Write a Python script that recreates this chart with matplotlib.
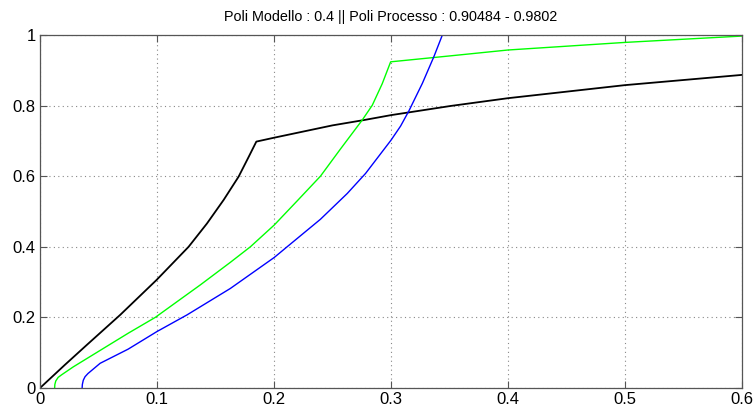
import matplotlib
matplotlib.use("Agg")
import matplotlib.pyplot as plt

# curves
black_x = [0, 0.0214, 0.04, 0.0685, 0.0996, 0.127, 0.1427, 0.157, 0.1698,
           0.1784, 0.1849, 0.2, 0.25, 0.2768, 0.3, 0.351, 0.4, 0.5, 0.6]
black_y = [0, 0.066, 0.122, 0.207, 0.306, 0.4, 0.466, 0.533, 0.599,
           0.655, 0.698, 0.709, 0.744, 0.759, 0.773, 0.799, 0.821, 0.858, 0.887]

green_x = [0.0125, 0.0127, 0.0135, 0.0155, 0.0183, 0.0285, 0.0753, 0.0985, 0.137,
           0.1627, 0.1798, 0.2003, 0.2198, 0.2397, 0.2568, 0.2754, 0.284,
           0.2925, 0.2997, 0.351, 0.4, 0.5, 0.6]
green_y = [0, 0.01, 0.02, 0.03, 0.037, 0.06, 0.155, 0.2, 0.292,
           0.356, 0.4, 0.462, 0.53, 0.6, 0.677, 0.759, 0.801,
           0.862, 0.924, 0.941, 0.9575, 0.979, 0.997]

blue_x = [0.036, 0.0362, 0.037, 0.0385, 0.041, 0.0514, 0.0753, 0.1, 0.1256, 0.1627,
          0.2003, 0.2112, 0.2397, 0.2626, 0.2783, 0.3, 0.3082, 0.3153,
          0.3268, 0.3367, 0.3439]
blue_y = [0, 0.01, 0.022, 0.032, 0.041, 0.07, 0.11, 0.16, 0.207, 0.282,
          0.37, 0.4, 0.478, 0.551, 0.608, 0.702, 0.742, 0.785,
          0.863, 0.939, 1.0]

x_ticks = [0, 0.1, 0.2, 0.3, 0.4, 0.5, 0.6]
x_labels = ['0', '0.1', '0.2', '0.3', '0.4', '0.5', '0.6']
y_ticks = [0, 0.2, 0.4, 0.6, 0.8, 1]
y_labels = ['0', '0.2', '0.4', '0.6', '0.8', '1']

title = 'Poli Modello : 0.4 || Poli Processo : 0.90484 - 0.9802'

plt.rcParams['font.family'] = ['Liberation Sans', 'DejaVu Sans']

fig = plt.figure(figsize=(7.56, 4.12), dpi=100)
ax = fig.add_axes([40 / 756, 24 / 412, 702 / 756, 353 / 412])

ax.plot(black_x, black_y, color='black', lw=1.3)
ax.plot(green_x, green_y, color='#00ff00', lw=1.0)
ax.plot(blue_x, blue_y, color='#0000ff', lw=1.0)

ax.set_xlim(0, 0.6)
ax.set_ylim(0, 1)
ax.set_xticks(x_ticks)
ax.set_xticklabels(x_labels)
ax.set_yticks(y_ticks)
ax.set_yticklabels(y_labels)

ax.grid(True, linestyle=(0, (1, 3)), color='#888888', lw=0.8)
ax.tick_params(direction='in', length=5, width=0.8, color='#555555',
               top=True, right=True, labelsize=12, pad=3)
for s in ax.spines.values():
    s.set_color('#555555')
    s.set_linewidth(0.9)

ax.set_title(title, fontsize=10.4, pad=10)

fig.savefig('out.png', dpi=100)
